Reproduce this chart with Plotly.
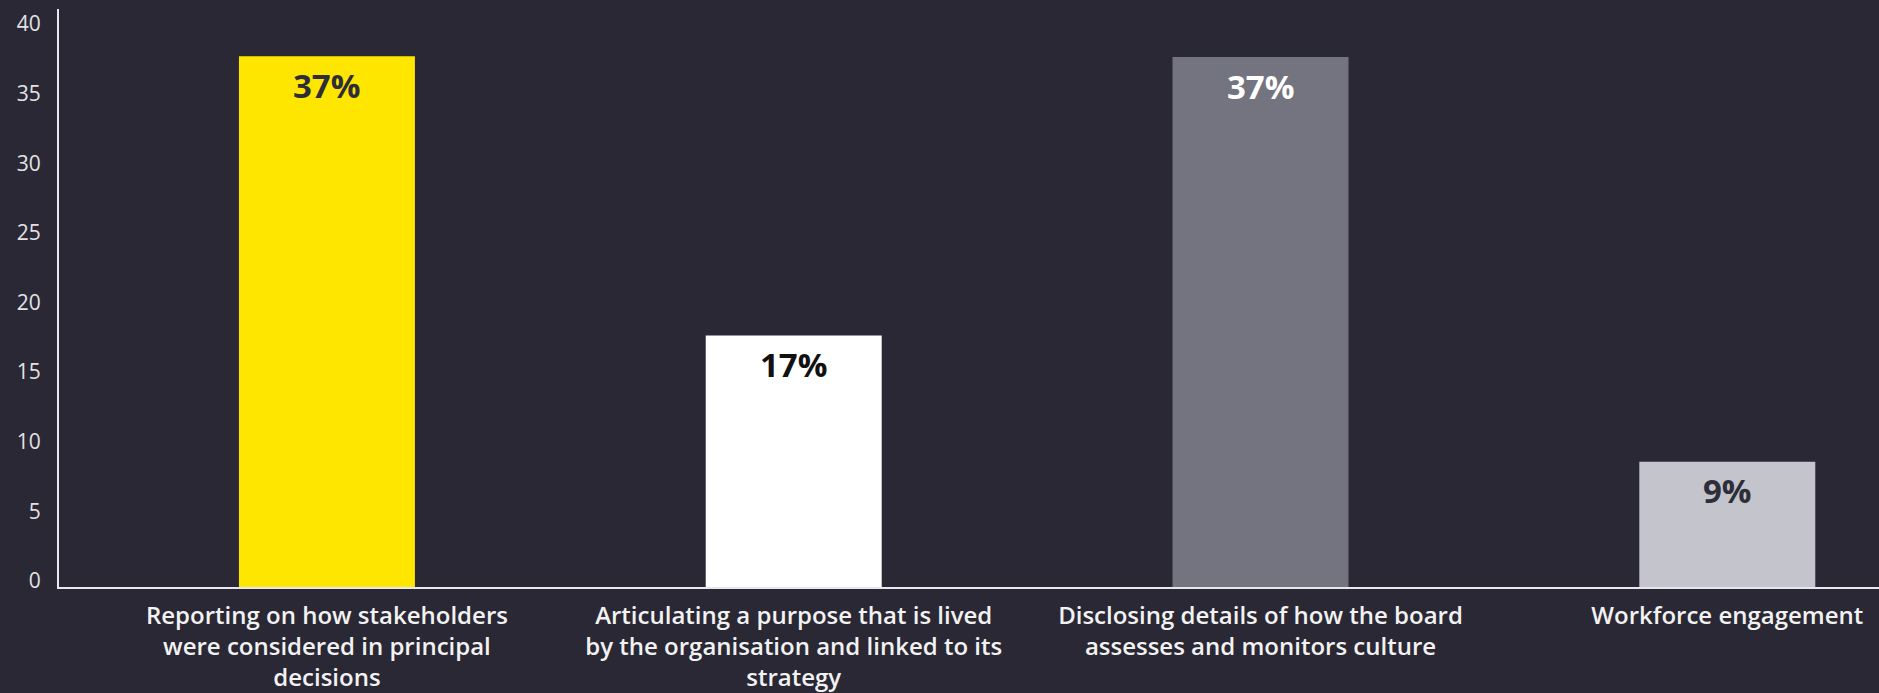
import plotly.graph_objects as go

categories = [
    "Reporting on how stakeholders<br>were considered in principal<br>decisions",
    "Articulating a purpose that is lived<br>by the organisation and linked to its<br>strategy",
    "Disclosing details of how the board<br>assesses and monitors culture",
    "Workforce engagement",
]
values = [38.1, 18.05, 38.05, 9.0]
labels = ["37%", "17%", "37%", "9%"]
bar_colors = ["#ffe600", "#ffffff", "#747480", "#c4c4cd"]
label_colors = ["#2e2e38", "#111111", "#ffffff", "#2e2e38"]
y_ticks = [0, 5, 10, 15, 20, 25, 30, 35, 40]

BG = "#2a2834"

fig = go.Figure(go.Bar(
    x=categories, y=values, marker=dict(color=bar_colors, line=dict(width=0)),
    hoverinfo="skip",
))

for c, v, t, col in zip(categories, values, labels, label_colors):
    fig.add_annotation(x=c, y=v, text=t, showarrow=False,
                       yshift=-29, font=dict(family="Open Sans", size=33, color=col, weight=700))

fig.update_layout(
    width=1879, height=693,
    paper_bgcolor=BG, plot_bgcolor=BG,
    margin=dict(l=59, r=0, t=9, b=104),
    bargap=0.623,
    showlegend=False,
    xaxis=dict(
        range=[-0.574, 3.325], showgrid=False, zeroline=False,
        showline=True, linecolor="#e8e8ec", linewidth=2,
        ticks="", tickangle=0, ticklabelstandoff=6,
        tickfont=dict(family="Open Sans", size=24, color="#f2f2f2", weight=600),
    ),
    yaxis=dict(
        range=[0, 41.5], tickvals=y_ticks, showgrid=False, zeroline=False,
        showline=True, linecolor="#e8e8ec", linewidth=2,
        ticks="", ticklabelshift=-6, ticklabelstandoff=12,
        tickfont=dict(family="Open Sans", size=21, color="#e2e2e6", weight=400),
    ),
)

fig.write_html(
    "out.html",
    config={"displayModeBar": False},
    post_script="document.body.style.margin='0';document.body.style.background='" + BG + "';",
)
